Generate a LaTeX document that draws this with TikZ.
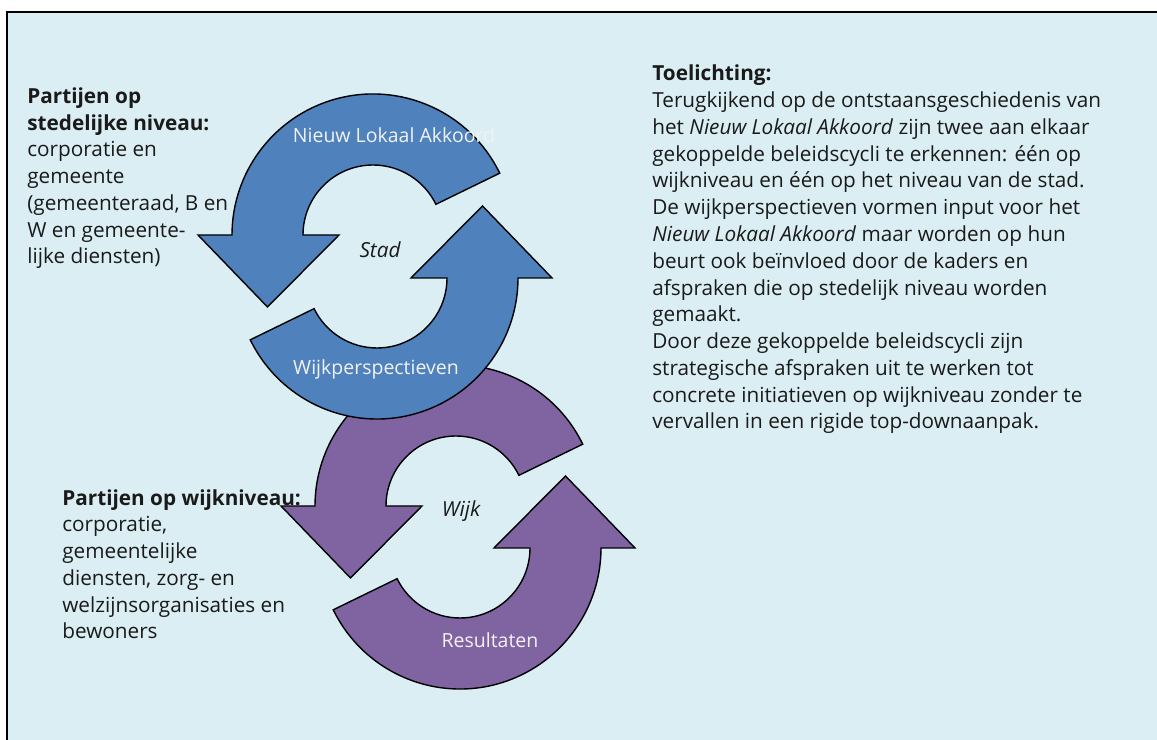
\documentclass[tikz,border=0pt]{standalone}
\usepackage{fontspec}
\setmainfont{Open Sans}
\usetikzlibrary{positioning}
\definecolor{bgaqua}{HTML}{DAEEF3}
\definecolor{stadblue}{HTML}{4F81BD}
\definecolor{wijkpurple}{HTML}{8064A2}
\definecolor{bodytext}{HTML}{1A1A1A}
\tikzset{
	% one half of a cycle: a curved band with the arrowhead at the left, pointing down
	halfcycle/.pic={
		\path[pic actions] (26:141) arc[start angle=26, end angle=180, radius=141]
			-- (-175,0) -- (-105.5,-72) -- (-34,0) -- (-70,0)
			arc[start angle=180, end angle=26, radius=70] -- cycle;
	}
}

\begin{document}
\begin{tikzpicture}[x=0.02cm, y=0.02cm, font=\fontsize{11.8}{15.25}\selectfont]
    \tikzstyle{stadarrow}=[draw=black, line width=0.8pt, fill=stadblue]
    \tikzstyle{wijkarrow}=[draw=black, line width=0.8pt, fill=wijkpurple]
    \tikzstyle{bandlabel}=[anchor=base, inner sep=0pt, text=white!95!black, font=\fontsize{11.1}{14}\selectfont]
    \tikzstyle{cyclename}=[anchor=base, inner sep=0pt, text=bodytext, font=\fontsize{11.8}{15.25}\selectfont\itshape]
    \tikzstyle{textblock}=[anchor=base west, inner sep=0pt, align=left, text=bodytext]

    \useasboundingbox (0,0) rectangle (1157,740);
    \fill[white] (0,0) rectangle (1157,740);
    \fill[bgaqua] (7,0) rectangle (1157,728);
    \draw[line width=1.1pt] (7,0) -- (7,728) -- (1157,728);

    % wijk cycle
    \pic[wijkarrow] at (456,234) {halfcycle};
    \pic[wijkarrow, rotate=180] at (460,192) {halfcycle};
    % stad cycle
    \pic[stadarrow] at (373,505) {halfcycle};
    \pic[stadarrow, rotate=180] at (377,462) {halfcycle};

    \node[bandlabel] (nla) at (394,597) {Nieuw Lokaal Akkoord};
    \node[cyclename] (stad) at (380,482) {Stad};
    \node[bandlabel] (wp) at (376,365) {Wijkperspectieven};
    \node[cyclename] (wijk) at (461,223) {Wijk};
    \node[bandlabel] (res) at (490,92) {Resultaten};

    % base anchor sits on the last line
    \node[textblock] (stedelijk) at (27,476) {\textbf{Partijen op}\\\textbf{stedelijke niveau:}\\corporatie en\\gemeente\\(gemeenteraad, B en\\W en gemeente-\\lijke diensten)};
    \node[textblock] (wijkpartijen) at (62,101) {\textbf{Partijen op wijkniveau:}\\corporatie,\\gemeentelijke\\diensten, zorg- en\\welzijnsorganisaties en\\bewoners};
    \node[textblock] (toelichting) at (652,311) {\textbf{Toelichting:}\\Terugkijkend op de ontstaansgeschiedenis van\\het \textit{Nieuw Lokaal Akkoord} zijn twee aan elkaar\\gekoppelde beleidscycli te erkennen: één op\\wijkniveau en één op het niveau van de stad.\\De wijkperspectieven vormen input voor het\\\textit{Nieuw Lokaal Akkoord} maar worden op hun\\beurt ook beïnvloed door de kaders en\\afspraken die op stedelijk niveau worden\\gemaakt.\\Door deze gekoppelde beleidscycli zijn\\strategische afspraken uit te werken tot\\concrete initiatieven op wijkniveau zonder te\\vervallen in een rigide top-downaanpak.};
\end{tikzpicture}
\end{document}
